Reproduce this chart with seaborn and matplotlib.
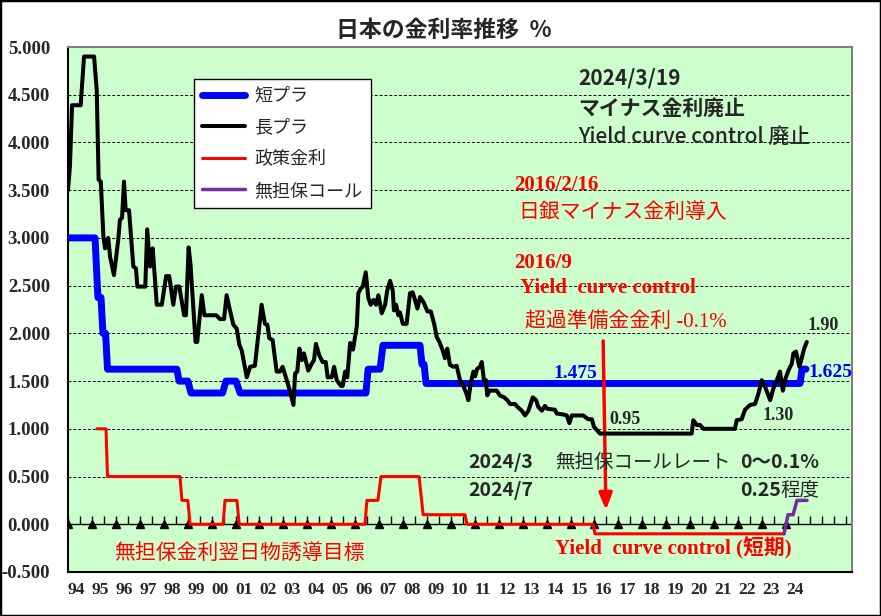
import matplotlib
matplotlib.use('Agg')
import matplotlib.pyplot as plt
import seaborn as sns
import numpy as np
from matplotlib.patches import Rectangle

# データ
short_years = [1994.0, 1995.13, 1995.25, 1995.38, 1995.46, 1995.57, 1995.65, 1998.55, 1998.64, 1999.01,
               1999.14, 2000.46, 2000.60, 2001.02, 2001.19, 2006.45, 2006.54, 2007.04, 2007.16, 2008.71,
               2008.79, 2008.88, 2008.96, 2024.59, 2024.67, 2024.84]
short_rate = [3.0, 3.0, 2.375, 2.375, 2.0, 2.0, 1.625, 1.625, 1.5, 1.5,
              1.375, 1.375, 1.5, 1.5, 1.375, 1.375, 1.625, 1.625, 1.875, 1.875,
              1.675, 1.675, 1.475, 1.475, 1.625, 1.625]

long_years = [1994.0, 1994.08, 1994.17, 1994.53, 1994.67, 1995.09, 1995.20, 1995.28, 1995.37, 1995.48,
              1995.55, 1995.68, 1995.76, 1995.92, 1996.10, 1996.17, 1996.26, 1996.34, 1996.41, 1996.55,
              1996.73, 1996.84, 1996.90, 1997.23, 1997.31, 1997.43, 1997.54, 1997.71, 1997.92, 1998.10,
              1998.23, 1998.40, 1998.51, 1998.65, 1998.85, 1998.93, 1999.04, 1999.12, 1999.33, 1999.40,
              1999.59, 1999.70, 2000.19, 2000.35, 2000.52, 2000.63, 2000.77, 2000.91, 2001.05, 2001.16,
              2001.26, 2001.47, 2001.61, 2001.81, 2002.09, 2002.23, 2002.33, 2002.41, 2002.55, 2002.72,
              2002.86, 2002.97, 2003.14, 2003.28, 2003.42, 2003.49, 2003.58, 2003.67, 2003.77, 2003.86,
              2004.04, 2004.18, 2004.28, 2004.36, 2004.50, 2004.64, 2004.77, 2004.85, 2005.02, 2005.12,
              2005.23, 2005.40, 2005.48, 2005.58, 2005.67, 2005.79, 2005.91, 2006.07, 2006.13, 2006.23,
              2006.32, 2006.44, 2006.55, 2006.65, 2006.76, 2006.87, 2006.97, 2007.11, 2007.25, 2007.34,
              2007.46, 2007.57, 2007.62, 2007.71, 2007.80, 2007.87, 2007.99, 2008.15, 2008.29, 2008.40,
              2008.50, 2008.60, 2008.71, 2008.85, 2009.02, 2009.16, 2009.30, 2009.41, 2009.52, 2009.66,
              2009.75, 2009.85, 2009.96, 2010.10, 2010.24, 2010.38, 2010.52, 2010.66, 2010.73, 2010.83,
              2010.94, 2011.01, 2011.10, 2011.22, 2011.29, 2011.38, 2011.46, 2011.52, 2011.61, 2011.91,
              2012.05, 2012.22, 2012.36, 2012.47, 2012.68, 2012.78, 2012.96, 2013.10, 2013.24, 2013.42,
              2013.56, 2013.65, 2013.80, 2013.93, 2014.03, 2014.35, 2014.42, 2014.70, 2014.84, 2014.95,
              2015.05, 2015.53, 2015.74, 2015.89, 2015.98, 2016.09, 2016.23, 2020.06, 2020.13, 2020.27,
              2020.41, 2020.55, 2021.87, 2021.94, 2022.15, 2022.29, 2022.50, 2022.71, 2022.85, 2022.99,
              2023.13, 2023.34, 2023.47, 2023.62, 2023.75, 2023.87, 2023.96, 2024.10, 2024.24, 2024.31,
              2024.42, 2024.56, 2024.66, 2024.76, 2024.87]
long_rate = [3.50, 3.75, 4.39, 4.39, 4.90, 4.90, 4.55, 3.61, 3.59, 3.01,
             2.89, 3.00, 2.80, 2.61, 2.98, 3.19, 3.21, 3.59, 3.29, 3.29,
             2.70, 2.68, 2.49, 2.49, 3.09, 2.70, 2.89, 2.30, 2.30, 2.60,
             2.60, 2.30, 2.49, 2.49, 2.19, 2.19, 2.90, 2.72, 1.91, 1.91,
             2.40, 2.19, 2.19, 2.15, 2.15, 2.40, 2.24, 2.09, 2.05, 1.88,
             1.82, 1.54, 1.65, 1.66, 2.30, 2.10, 2.09, 1.95, 1.93, 1.60,
             1.60, 1.65, 1.51, 1.39, 1.25, 1.58, 1.60, 1.84, 1.72, 1.79,
             1.61, 1.68, 1.72, 1.89, 1.77, 1.70, 1.70, 1.54, 1.54, 1.65,
             1.51, 1.45, 1.45, 1.60, 1.54, 1.90, 1.83, 2.08, 2.42, 2.47,
             2.49, 2.64, 2.37, 2.30, 2.35, 2.30, 2.40, 2.21, 2.30, 2.45,
             2.55, 2.45, 2.24, 2.30, 2.19, 2.22, 2.10, 2.10, 2.42, 2.43,
             2.35, 2.26, 2.38, 2.33, 2.23, 2.23, 2.10, 1.96, 1.91, 1.82,
             1.74, 1.84, 1.67, 1.65, 1.66, 1.51, 1.45, 1.36, 1.30, 1.48,
             1.60, 1.55, 1.63, 1.65, 1.70, 1.51, 1.51, 1.35, 1.40, 1.40,
             1.35, 1.33, 1.30, 1.26, 1.26, 1.23, 1.19, 1.14, 1.19, 1.33,
             1.30, 1.23, 1.19, 1.24, 1.21, 1.20, 1.16, 1.15, 1.14, 1.06,
             1.14, 1.14, 1.10, 1.10, 1.02, 0.99, 0.95, 0.95, 1.09, 1.04,
             1.04, 1.00, 1.00, 1.09, 1.10, 1.20, 1.25, 1.26, 1.37, 1.51,
             1.44, 1.30, 1.42, 1.51, 1.60, 1.40, 1.51, 1.61, 1.68, 1.79,
             1.81, 1.65, 1.74, 1.84, 1.91]

policy_years = [1995.21, 1995.59, 1995.65, 1998.68, 1998.76, 1999.01, 1999.10, 2000.48, 2000.56, 2001.06,
                2001.15, 2006.41, 2006.49, 2006.95, 2007.08, 2008.67, 2008.84, 2010.59, 2010.67, 2015.94,
                2016.02, 2023.92]
policy_rate = [1.0, 1.0, 0.5, 0.5, 0.25, 0.25, 0.0, 0.0, 0.25, 0.25,
               0.0, 0.0, 0.25, 0.25, 0.5, 0.5, 0.1, 0.1, 0.0, 0.0,
               -0.1, -0.1]

call_years = [2023.92, 2024.09, 2024.30, 2024.46, 2024.88]
call_rate = [-0.1, 0.1, 0.1, 0.25, 0.25]

year_labels = [f'{y % 100:02d}' for y in range(1994, 2025)]

sns.set_style('white')
plt.rcParams['font.family'] = ['Liberation Serif', 'Noto Sans CJK JP']
JP = ['Noto Sans CJK JP', 'DejaVu Sans']
SERIF = ['Liberation Serif', 'Noto Sans CJK JP']

fig = plt.figure(figsize=(8.81, 6.16), dpi=100)
ax = fig.add_axes([68 / 881, 44 / 616, 784 / 881, 525 / 616])
ax.set_facecolor('#CCFFCC')

# グリッド
for g in np.arange(0.5, 4.9, 0.5):
    ax.axhline(g, color='black', lw=0.7, ls=(0, (3, 2)), zorder=1)
ax.axhline(0, color='black', lw=1, zorder=1)

# 0 線上の目盛り
half_years = np.arange(1994, 2027, 0.5)
ax.plot(half_years, np.zeros(len(half_years)), ls='none',
        marker=2, ms=6, mew=1, color='black', zorder=2)
ax.plot(np.arange(1994, 2025), np.zeros(31), ls='none', marker='^', ms=5.5,
        color='black', zorder=2)

kw = dict(ax=ax, estimator=None, sort=False, solid_joinstyle='round', solid_capstyle='round')
sns.lineplot(x=short_years, y=short_rate, color='#0000FF', lw=5, label='短プラ', zorder=3, **kw)
sns.lineplot(x=long_years, y=long_rate, color='black', lw=2.9, label='長プラ', zorder=4, **kw)
sns.lineplot(x=policy_years, y=policy_rate, color='#FF0000', lw=2.2, label='政策金利', zorder=5, **kw)
sns.lineplot(x=call_years, y=call_rate, color='#7030A0', lw=2.5, label='無担保コール', zorder=5, **kw)

ax.set_xlim(1994, 2026.76)
ax.set_ylim(-0.5, 5.0)
ax.set_xlabel('')
ax.set_ylabel('')

ax.set_xticks(range(1994, 2025))
ax.set_xticklabels(year_labels, ha='left', fontsize=12.5, fontweight='bold', family='Liberation Serif')
ax.set_yticks(np.arange(-0.5, 5.01, 0.5))
ax.set_yticklabels([f'{v:.3f}' for v in np.arange(-0.5, 5.01, 0.5)], fontsize=13.5,
                   fontweight='bold', family='Liberation Serif')
ax.tick_params(axis='x', length=0, pad=7)
ax.tick_params(axis='y', length=0, pad=13)

for s in ['left', 'bottom']:
    ax.spines[s].set_color('black')
    ax.spines[s].set_linewidth(1.5)
for s in ['top', 'right']:
    ax.spines[s].set_color('#808080')
    ax.spines[s].set_linewidth(1.5)

leg = ax.legend(loc='upper left', bbox_to_anchor=(194 / 881, 1 - 79 / 616), bbox_transform=fig.transFigure,
                frameon=True, fancybox=False, edgecolor='black', framealpha=1,
                prop={'family': JP, 'size': 13}, handlelength=2.4, handletextpad=0.5,
                labelspacing=0.75, borderpad=0.45, borderaxespad=0)
leg.get_frame().set_linewidth(1)

# 注記
ax.text(2015.31, 4.675, '2024/3/19', family=JP, fontsize=15, fontweight='bold', va='center')
ax.text(2015.31, 4.36, 'マイナス金利廃止', family=JP, fontsize=15, fontweight='bold', va='center')
ax.text(2015.31, 4.06, 'Yield curve control 廃止', family=JP, fontsize=15, fontweight='medium', va='center')

ax.text(2012.64, 3.553, '2016/2/16', family=SERIF, fontsize=15, fontweight='bold', color='red', va='center')
ax.text(2012.80, 3.27, '日銀マイナス金利導入', family=JP, fontsize=15, color='red', va='center')
ax.text(2012.64, 2.736, '2016/9', family=SERIF, fontsize=15, fontweight='bold', color='red', va='center')
ax.text(2012.89, 2.474, 'Yield  curve control', family=SERIF, fontsize=15, fontweight='bold',
        color='red', va='center')
ax.text(2013.10, 2.117, '超過準備金金利 -0.1%', family=SERIF, fontsize=15, color='red', va='center')
ax.annotate('', xy=(2016.48, 0.12), xytext=(2016.36, 1.95),
            arrowprops=dict(arrowstyle='-|>,head_width=0.4,head_length=1.0', color='red', lw=2.5))

ax.text(2024.92, 2.086, '1.90', family=SERIF, fontsize=13, fontweight='bold', va='center')
ax.text(2014.27, 1.583, '1.475', family=SERIF, fontsize=14, fontweight='bold', color='#0000FF', va='center')
ax.text(2024.92, 1.593, '1.625', family=SERIF, fontsize=14, fontweight='bold', color='#0000FF', va='center')
ax.text(2016.61, 1.10, '0.95', family=SERIF, fontsize=13, fontweight='bold', va='center')
ax.text(2023.0, 1.143, '1.30', family=SERIF, fontsize=13, fontweight='bold', va='center')

ax.text(2010.72, 0.65, '2024/3', family=JP, fontsize=14, fontweight='bold', va='center')
ax.text(2014.35, 0.65, '無担保コールレート', family=JP, fontsize=14, va='center')
ax.text(2022.08, 0.65, '0〜0.1%', family=JP, fontsize=14, fontweight='bold', va='center')
ax.text(2010.72, 0.356, '2024/7', family=JP, fontsize=14, fontweight='bold', va='center')
ax.text(2022.08, 0.356, '0.25', family=JP, fontsize=14, fontweight='bold', va='center')
ax.text(2023.78, 0.356, '程度', family=JP, fontsize=14, va='center')

ax.text(2014.35, -0.25, 'Yield  curve control (短期)', family=SERIF, fontsize=15, fontweight='bold',
        color='red', va='center')
ax.text(1995.92, -0.30, '無担保金利翌日物誘導目標', family=JP, fontsize=15, color='red', va='center')

fig.text(0.504, 0.951, '日本の金利率推移  %', family=JP, fontsize=16.5, fontweight='bold',
         ha='center', va='center')
fig.patches.append(Rectangle((0, 0), 1, 1, transform=fig.transFigure, fill=False,
                             edgecolor='black', lw=2.5))

fig.savefig('out.png', dpi=100)
